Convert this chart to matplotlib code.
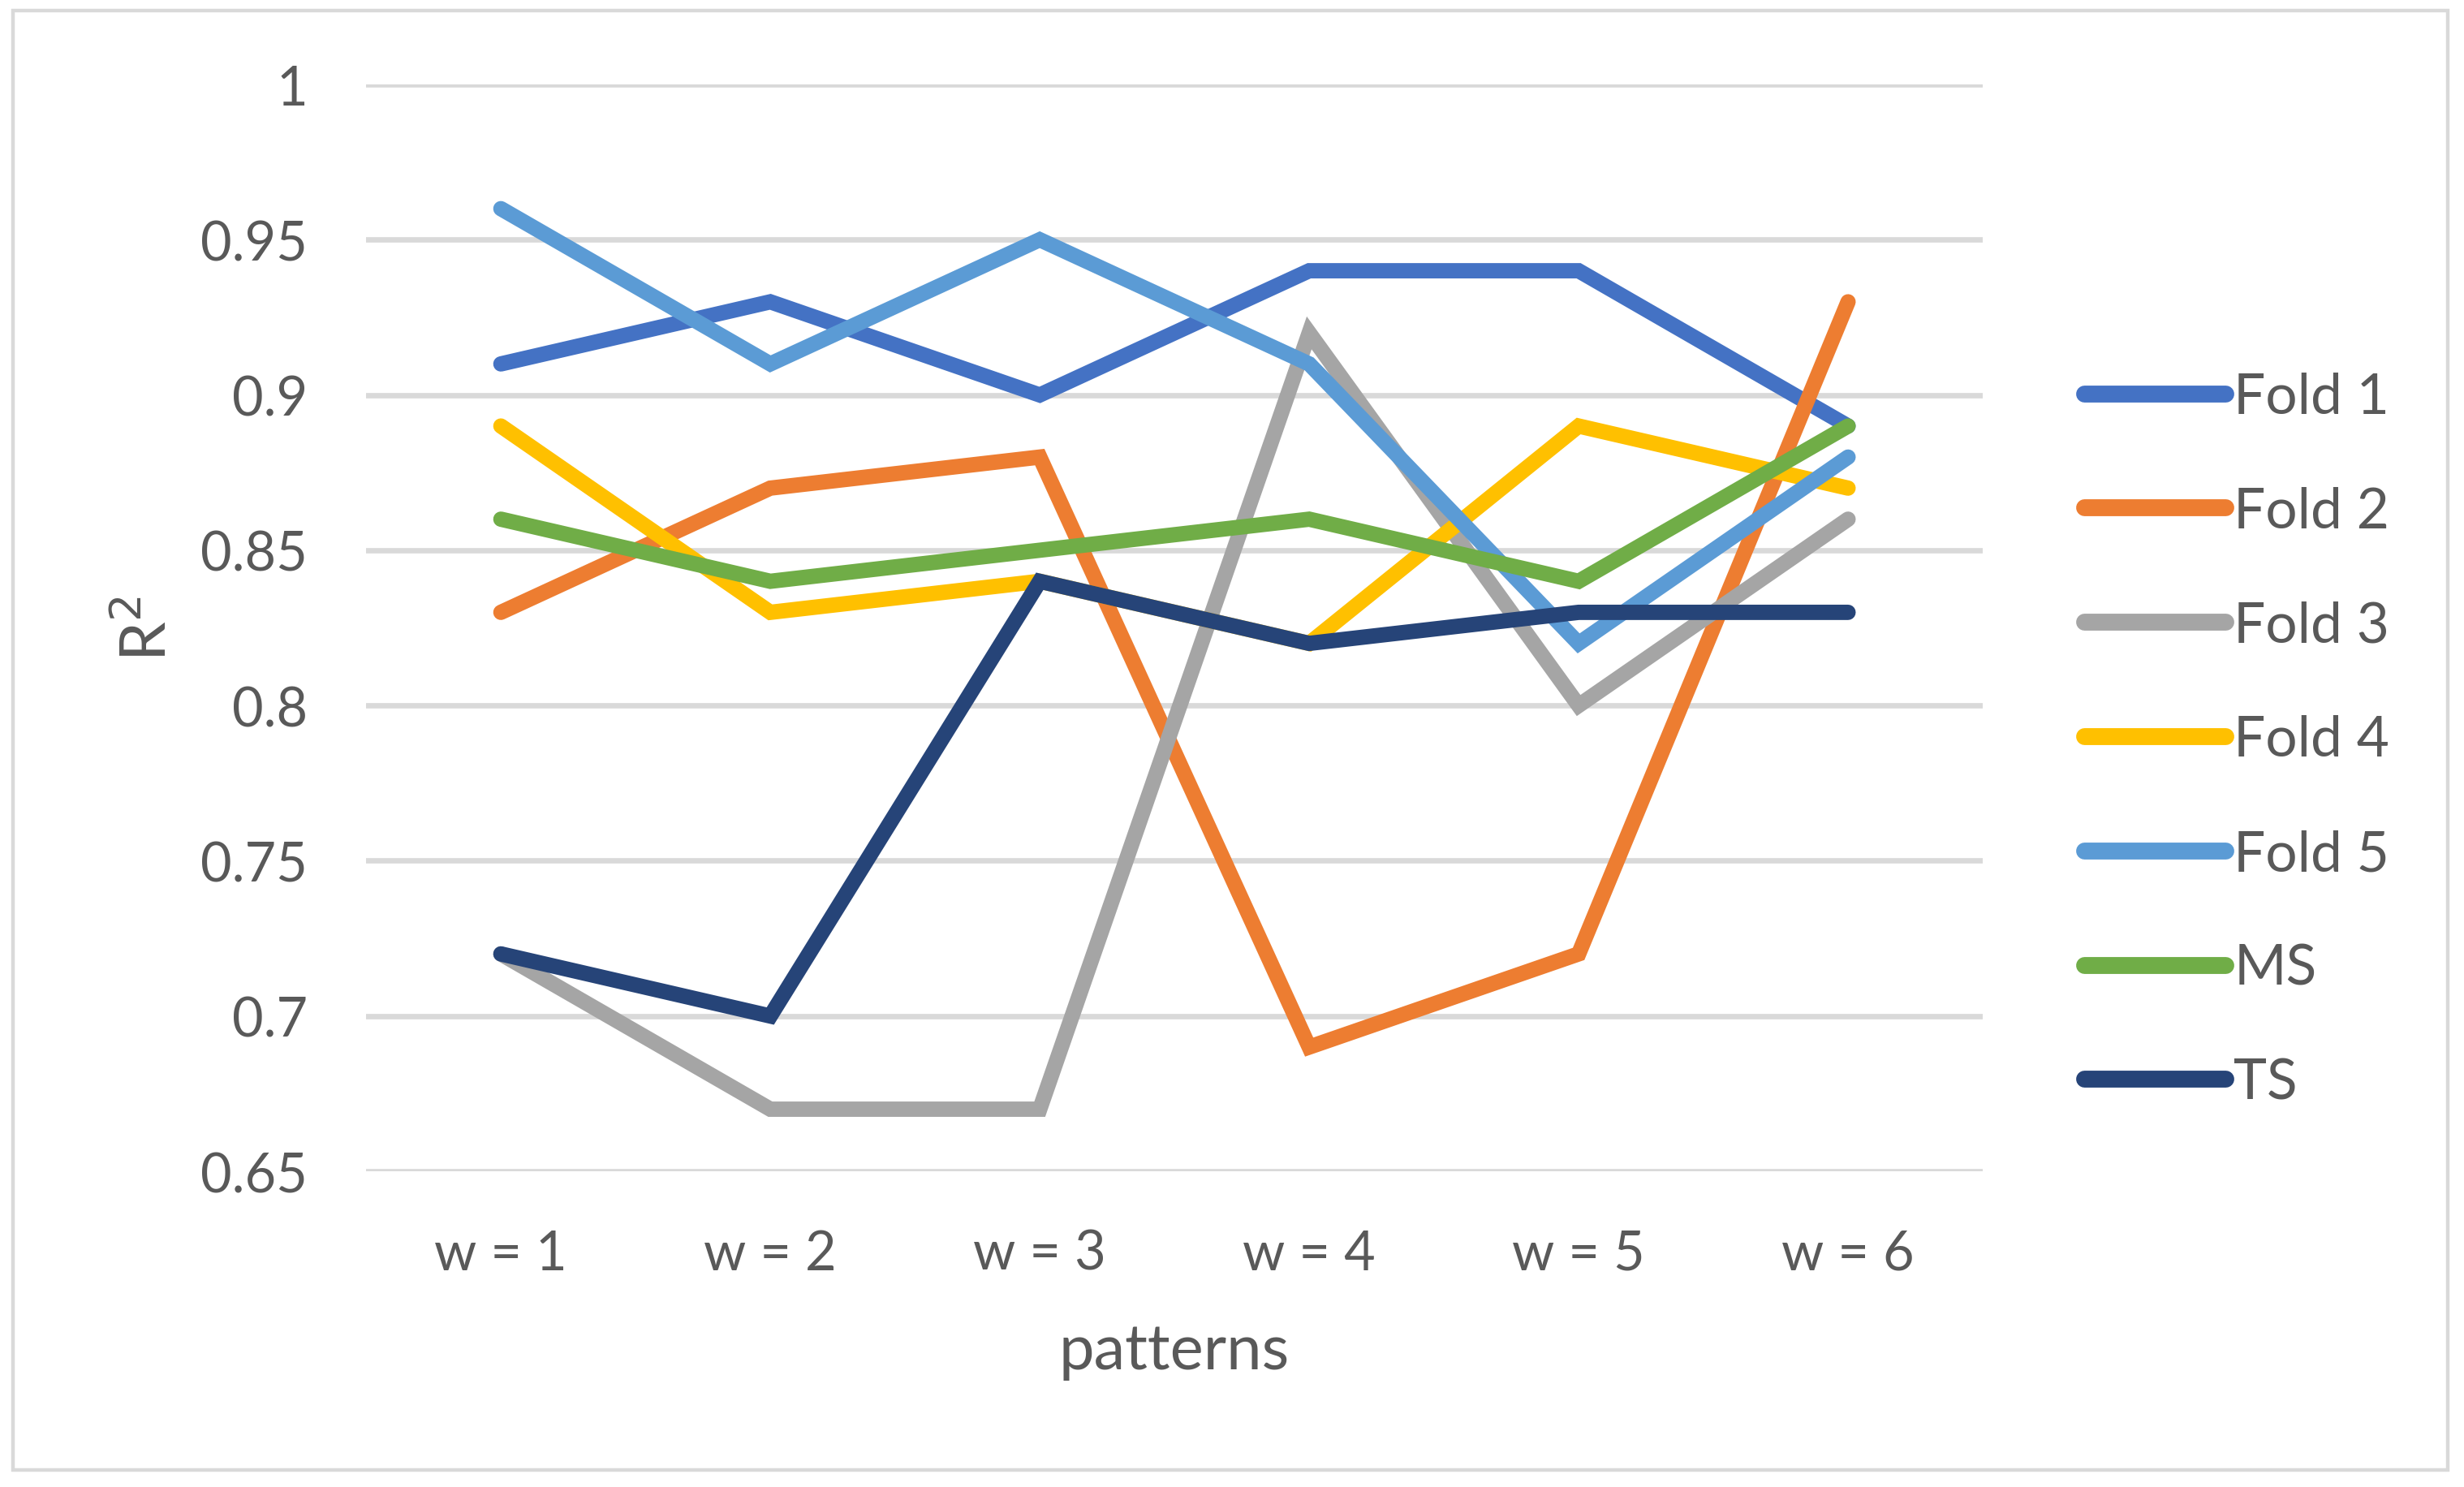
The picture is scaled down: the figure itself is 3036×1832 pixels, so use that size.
import matplotlib
matplotlib.use("Agg")
import matplotlib.pyplot as plt
from matplotlib.patches import Rectangle

plt.rcParams["font.family"] = ["Lato", "DejaVu Sans"]

categories = ["w = 1", "w = 2", "w = 3", "w = 4", "w = 5", "w = 6"]
series_names = ["Fold 1", "Fold 2", "Fold 3", "Fold 4", "Fold 5", "MS", "TS"]
fold1 = [0.91, 0.93, 0.90, 0.94, 0.94, 0.89]
fold2 = [0.83, 0.87, 0.88, 0.69, 0.72, 0.93]
fold3 = [0.72, 0.67, 0.67, 0.92, 0.80, 0.86]
fold4 = [0.89, 0.83, 0.84, 0.82, 0.89, 0.87]
fold5 = [0.96, 0.91, 0.95, 0.91, 0.82, 0.88]
ms = [0.86, 0.84, 0.85, 0.86, 0.84, 0.89]
ts = [0.72, 0.70, 0.84, 0.82, 0.83, 0.83]
colors = ["#4472C4", "#ED7D31", "#A5A5A5", "#FFC000", "#5B9BD5", "#70AD47", "#264478"]
y_ticks = [0.65, 0.7, 0.75, 0.8, 0.85, 0.9, 0.95, 1.0]
y_tick_labels = ["0.65", "0.7", "0.75", "0.8", "0.85", "0.9", "0.95", "1"]

text_color = "#595959"
grid_color = "#D9D9D9"

fig = plt.figure(figsize=(15.18, 9.165), dpi=200)
ax = fig.add_axes([0.1486, 0.2122, 0.8047 - 0.1486, 0.9427 - 0.2122])

x = list(range(len(categories)))
for name, values, color in zip(series_names, [fold1, fold2, fold3, fold4, fold5, ms, ts], colors):
    ax.plot(x, values, color=color, lw=6.8, label=name,
            solid_capstyle="round", solid_joinstyle="miter", zorder=3)

ax.set_xlim(-0.5, len(categories) - 0.5)
ax.set_ylim(0.65, 1.0)
ax.set_xticks(x, labels=categories)
ax.set_yticks(y_ticks, labels=y_tick_labels)
ax.yaxis.grid(True, color=grid_color, lw=2.4, zorder=0)
ax.set_axisbelow(True)
for spine in ax.spines.values():
    spine.set_visible(False)
ax.tick_params(axis="both", length=0, labelsize=24, colors=text_color)
ax.tick_params(axis="x", pad=25.5)
ax.tick_params(axis="y", pad=26)

ax.set_xlabel("patterns", fontsize=28, color=text_color, labelpad=19)
ax.set_ylabel("R$^2$", fontsize=28, color=text_color, labelpad=10)

leg = fig.legend(loc="center left", bbox_to_anchor=(0.846, 0.502), frameon=False,
                 fontsize=25, handlelength=2.5, handletextpad=0.15,
                 labelspacing=1.12, borderpad=0, borderaxespad=0)
for txt in leg.get_texts():
    txt.set_color(text_color)
for line in leg.get_lines():
    line.set_linewidth(7.5)

fig.patches.append(Rectangle((16 / 3036, 1 - 1812 / 1833), 3000 / 3036, 1798 / 1833,
                             transform=fig.transFigure, fill=False,
                             edgecolor=grid_color, lw=1.6))

fig.savefig("out.png", dpi=200, facecolor="white")
